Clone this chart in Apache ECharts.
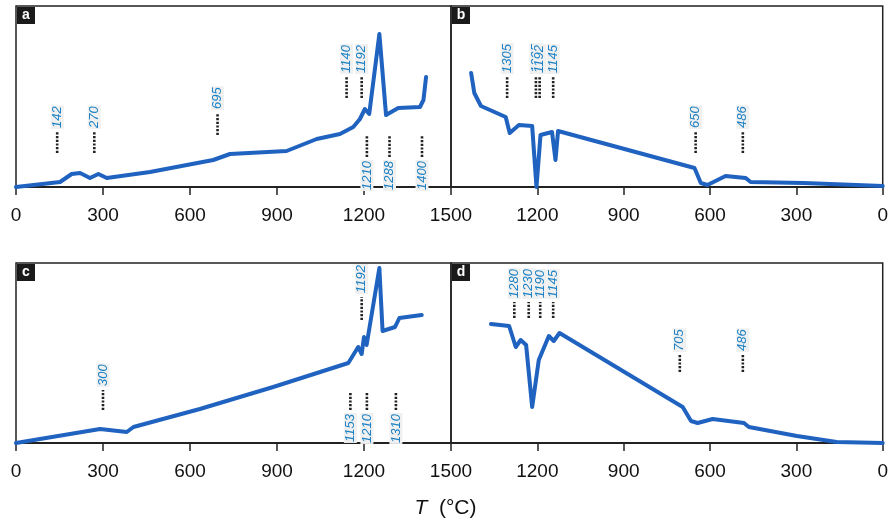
<!DOCTYPE html>
<html>
<head>
    <meta charset="utf-8">
    <script src="https://cdn.jsdelivr.net/npm/echarts@6/dist/echarts.min.js"></script>
    <style>
        body, html {
            margin: 0;
            height: 100%;
            background: #fff;
        }
        #main {
            width: 891px;
            height: 526px;
        }
    </style>
</head>
<body>
<div id="main"></div>

<script>
    // temperature ticks
    var ticks = [0, 300, 600, 900, 1200, 1500];

    // a : heating curve
    var tA = [0, 152, 192, 221, 255, 284, 313, 462, 680, 738, 933, 1037, 1117, 1163, 1186, 1203, 1218, 1253, 1276, 1318, 1393, 1405, 1414];
    var sA = [0, 5, 13, 14, 9, 13, 9, 15, 27, 33, 36, 48, 53, 60, 68, 78, 73, 153, 72, 79, 80, 87, 110];
    // b : cooling curve
    var tB = [1430, 1419, 1396, 1310, 1296, 1264, 1218, 1203, 1189, 1149, 1137, 1128, 654, 632, 609, 546, 476, 459, 275, 0];
    var sB = [114, 94, 81, 70, 54, 62, 61, 0, 52, 55, 27, 56, 19, 4, 2, 11, 9, 5, 4, 1];
    // c : heating curve
    var tC = [0, 290, 382, 405, 634, 887, 1146, 1180, 1192, 1200, 1209, 1253, 1264, 1307, 1322, 1399];
    var sC = [0, 14, 11, 16, 34, 56, 80, 96, 89, 106, 98, 175, 112, 116, 125, 128];
    // d : cooling curve
    var tD = [1361, 1298, 1275, 1258, 1239, 1218, 1195, 1160, 1143, 1123, 695, 666, 643, 591, 482, 465, 298, 160, 0];
    var sD = [119, 117, 96, 103, 98, 36, 83, 107, 102, 110, 36, 22, 20, 24, 20, 16, 7, 1, 0];

    // marked temperatures: [T, dots from, dots to, 1 = text above / -1 = text below]
    var marksA = [[142, 34, 55, 1], [270, 34, 55, 1], [695, 52, 74, 1], [1140, 89, 110, 1], [1192, 89, 110, 1],
                  [1210, 30, 52, -1], [1288, 30, 52, -1], [1400, 30, 52, -1]];
    var marksB = [[1305, 89, 110, 1], [1205, 89, 110, 1], [1192, 89, 110, 1], [1145, 89, 110, 1],
                  [650, 34, 55, 1], [486, 34, 55, 1]];
    var marksC = [[300, 33, 53, 1], [1192, 123, 146, 1], [1153, 33, 50, -1], [1210, 33, 50, -1], [1310, 33, 50, -1]];
    var marksD = [[1280, 125, 141, 1], [1230, 125, 141, 1], [1190, 125, 141, 1], [1145, 125, 141, 1],
                  [705, 71, 88, 1], [486, 71, 88, 1]];

    var panelNames = ['a', 'b', 'c', 'd'];

    var lineColor = '#1f62bf';
    var textBlue = '#1a80c4';
    var sans = '"Liberation Sans", Arial, sans-serif';

    function zip(t, s) {
        return t.map(function (v, i) { return [v, s[i]]; });
    }

    function renderMarks(params, api) {
        var t = api.value(0), lo = api.value(1), hi = api.value(2), side = api.value(3);
        var p1 = api.coord([t, lo]);
        var p2 = api.coord([t, hi]);
        var anchor = side > 0 ? [p2[0], p2[1] - 3] : [p1[0], p1[1] + 3];
        return {
            type: 'group',
            children: [
                {
                    type: 'line',
                    shape: {x1: p1[0], y1: p1[1], x2: p2[0], y2: p2[1]},
                    style: {stroke: '#222', lineWidth: 2.6, lineDash: [2.2, 1.5]}
                },
                {
                    type: 'text',
                    x: anchor[0],
                    y: anchor[1],
                    rotation: Math.PI / 2,
                    style: {
                        text: String(t),
                        fill: textBlue,
                        font: 'italic 13px ' + sans,
                        align: side > 0 ? 'left' : 'right',
                        verticalAlign: 'middle',
                        backgroundColor: '#f0f0f0',
                        padding: [0, 1]
                    }
                }
            ]
        };
    }

    var grids = [
        {left: 16, top: 6, width: 435, height: 181},
        {left: 451, top: 6, width: 435, height: 181},
        {left: 16, top: 263, width: 435, height: 180},
        {left: 451, top: 263, width: 435, height: 180}
    ];
    grids.forEach(function (g) {
        g.show = true;
        g.borderColor = '#222';
        g.borderWidth = 1.5;
        g.containLabel = false;
    });

    var xAxes = [], yAxes = [], series = [];
    var curves = [zip(tA, sA), zip(tB, sB), zip(tC, sC), zip(tD, sD)];
    var marks = [marksA, marksB, marksC, marksD];

    for (var i = 0; i < 4; i++) {
        xAxes.push({
            gridIndex: i,
            type: 'value',
            min: ticks[0],
            max: ticks[ticks.length - 1],
            interval: 300,
            inverse: i % 2 === 1,
            axisLine: {lineStyle: {color: '#222', width: 2}},
            axisTick: {length: 8, lineStyle: {color: '#222', width: 1.5}},
            axisLabel: {
                fontSize: 19,
                color: '#111',
                margin: 19,
                fontFamily: sans,
                showMaxLabel: i % 2 === 0,
                showMinLabel: true,
                formatter: function (v) { return String(v); }
            },
            splitLine: {show: false}
        });
        yAxes.push({
            gridIndex: i,
            type: 'value',
            min: 0,
            max: grids[i].height,
            show: false
        });
        series.push({
            type: 'line',
            xAxisIndex: i,
            yAxisIndex: i,
            data: curves[i],
            showSymbol: false,
            symbol: 'none',
            lineStyle: {color: lineColor, width: 4, join: 'round', cap: 'round'},
            z: 3
        });
        series.push({
            type: 'custom',
            xAxisIndex: i,
            yAxisIndex: i,
            data: marks[i],
            renderItem: renderMarks,
            z: 4
        });
    }

    var graphics = [];
    grids.forEach(function (g, i) {
        graphics.push({
            type: 'group',
            left: g.left + 1,
            top: g.top + 1,
            children: [
                {type: 'rect', shape: {x: 0, y: 0, width: 18, height: 17}, style: {fill: '#1a1a1a'}},
                {type: 'text', x: 9, y: 8.5, style: {text: panelNames[i], fill: '#fff',
                    font: 'bold 14px ' + sans, align: 'center', verticalAlign: 'middle'}}
            ]
        });
    });
    graphics.push({
        type: 'text',
        left: 'center',
        top: 498,
        style: {
            rich: {
                t: {fontStyle: 'italic', fontSize: 21, fontFamily: sans, fill: '#111'},
                u: {fontSize: 21, fontFamily: sans, fill: '#111'}
            },
            text: '{t|T}{u|  (°C)}'
        }
    });

    var myChart = echarts.init(document.getElementById('main'));
    var option = {
        animation: false,
        grid: grids,
        xAxis: xAxes,
        yAxis: yAxes,
        series: series,
        graphic: graphics
    };
    myChart.setOption(option);
</script>
</body>
</html>
